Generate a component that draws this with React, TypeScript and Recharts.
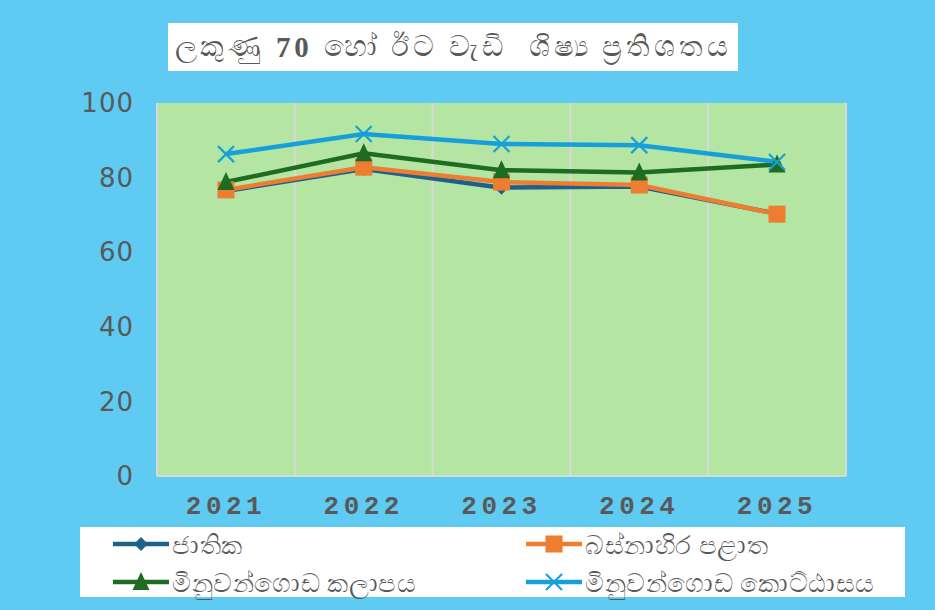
import React from 'react';
import { LineChart, Line, XAxis, YAxis, CartesianGrid } from 'recharts';

const years = ['2021', '2022', '2023', '2024', '2025'];
const national = [76.4, 82.3, 77.3, 77.6, 70.3];
const western = [76.7, 82.8, 78.8, 78.0, 70.2];
const zone = [78.8, 86.5, 82.0, 81.4, 83.5];
const division = [86.3, 91.7, 89.0, 88.7, 84.2];
const yTicks = [0, 20, 40, 60, 80, 100];

const titleStart = 'ලකුණු ';
const titleNumber = '70';
const titleEnd = ' හෝ ඊට වැඩි  ශිෂ්‍ය ප්‍රතිශතය';
const seriesNames = ['ජාතික', 'බස්නාහිර පළාත', 'මිනුවන්ගොඩ කලාපය', 'මිනුවන්ගොඩ කොට්ඨාසය'];
const seriesKeys = ['national', 'western', 'zone', 'division'];
const seriesColors = ['#1F5F8B', '#ED7D31', '#1E6B22', '#169FDA'];
const seriesMarkers = ['diamond', 'square', 'triangle', 'cross'];

const data = years.map((y, i) => ({
  year: y,
  national: national[i],
  western: western[i],
  zone: zone[i],
  division: division[i],
}));

const BG = '#5FCBF3';
const PLOT = '#B4E5A2';
const TEXT = '#595959';

function Marker({ kind, cx, cy, color }: { kind: string; cx: number; cy: number; color: string }) {
  if (cx == null || cy == null) return null;
  if (kind === 'diamond') {
    const r = 7;
    return <polygon points={`${cx},${cy - r} ${cx + r},${cy} ${cx},${cy + r} ${cx - r},${cy}`} fill={color} />;
  }
  if (kind === 'square') {
    const r = 8.5;
    return <rect x={cx - r} y={cy - r} width={2 * r} height={2 * r} fill={color} />;
  }
  if (kind === 'triangle') {
    const w = 8.5;
    return <polygon points={`${cx},${cy - 10} ${cx + w},${cy + 8} ${cx - w},${cy + 8}`} fill={color} />;
  }
  const r = 8;
  return (
    <g stroke={color} strokeWidth={2.2}>
      <line x1={cx - r} y1={cy - r} x2={cx + r} y2={cy + r} />
      <line x1={cx - r} y1={cy + r} x2={cx + r} y2={cy - r} />
    </g>
  );
}

function makeDot(kind: string, color: string) {
  return (props: any) => <Marker key={`${kind}-${props.index}`} kind={kind} cx={props.cx} cy={props.cy} color={color} />;
}

function LegendBox() {
  const positions = [
    { left: 33, top: 17 },
    { left: 446, top: 17 },
    { left: 33, top: 55 },
    { left: 446, top: 55 },
  ];
  return (
    <div style={{ position: 'absolute', left: 80, top: 527, width: 825, height: 70, background: '#fff' }}>
      {seriesNames.map((name, i) => (
        <div
          key={name}
          style={{
            position: 'absolute',
            left: positions[i].left,
            top: positions[i].top - 17,
            height: 34,
            display: 'flex',
            alignItems: 'center',
          }}
        >
          <svg width={56} height={34} style={{ display: 'block' }}>
            <line x1={0} y1={17} x2={56} y2={17} stroke={seriesColors[i]} strokeWidth={4.5} strokeLinecap="round" />
            <Marker kind={seriesMarkers[i]} cx={28} cy={17} color={seriesColors[i]} />
          </svg>
          <span
            style={{
              marginLeft: 3,
              fontFamily: '"Noto Sans", sans-serif',
              fontSize: 26,
              letterSpacing: 0.5,
              color: TEXT,
              whiteSpace: 'nowrap',
            }}
          >
            {name}
          </span>
        </div>
      ))}
    </div>
  );
}

const gridX = ({ offset }: any) => {
  const res: number[] = [];
  for (let i = 0; i <= years.length; i++) res.push(offset.left + (offset.width * i) / years.length);
  return res;
};

export default function App() {
  return (
    <div style={{ position: 'absolute', left: 0, top: 0, width: 935, height: 610, background: BG, overflow: 'hidden' }}>
      <div
        style={{
          position: 'absolute',
          left: 168,
          top: 23,
          width: 570,
          height: 48,
          background: '#fff',
          display: 'flex',
          alignItems: 'center',
          justifyContent: 'center',
          fontFamily: '"Liberation Serif", serif',
          fontSize: 29,
          letterSpacing: 3.8,
          color: TEXT,
          whiteSpace: 'pre',
        }}
      >
        {titleStart}
        <span style={{ fontWeight: 'bold' }}>{titleNumber}</span>
        {titleEnd}
      </div>
      <LineChart width={935} height={610} data={data} margin={{ top: 103, right: 89, bottom: 104, left: 97 }}>
        <CartesianGrid
          horizontal={false}
          vertical={true}
          fill={PLOT}
          fillOpacity={1}
          stroke="#D9D9D9"
          strokeWidth={2}
          verticalCoordinatesGenerator={gridX}
        />
        <XAxis
          dataKey="year"
          height={30}
          padding={{ left: 69, right: 69 }}
          axisLine={{ stroke: '#D9D9D9', strokeWidth: 2 }}
          tickLine={false}
          tick={{ fill: TEXT, fontSize: 26, fontWeight: 'bold', fontFamily: '"Liberation Mono", monospace', letterSpacing: 4.5 }}
          dy={12}
        />
        <YAxis
          domain={[0, 100]}
          ticks={yTicks}
          width={60}
          axisLine={{ stroke: '#D9D9D9', strokeWidth: 2 }}
          tickLine={false}
          tick={{ fill: TEXT, fontSize: 26, fontFamily: '"DejaVu Sans", sans-serif', letterSpacing: 1 }}
          dx={-15}
        />
        {seriesKeys.map((k, i) => (
          <Line
            key={k}
            dataKey={k}
            name={seriesNames[i]}
            stroke={seriesColors[i]}
            strokeWidth={4.5}
            dot={makeDot(seriesMarkers[i], seriesColors[i])}
            activeDot={false}
            isAnimationActive={false}
          />
        ))}
      </LineChart>
      <LegendBox />
    </div>
  );
}
